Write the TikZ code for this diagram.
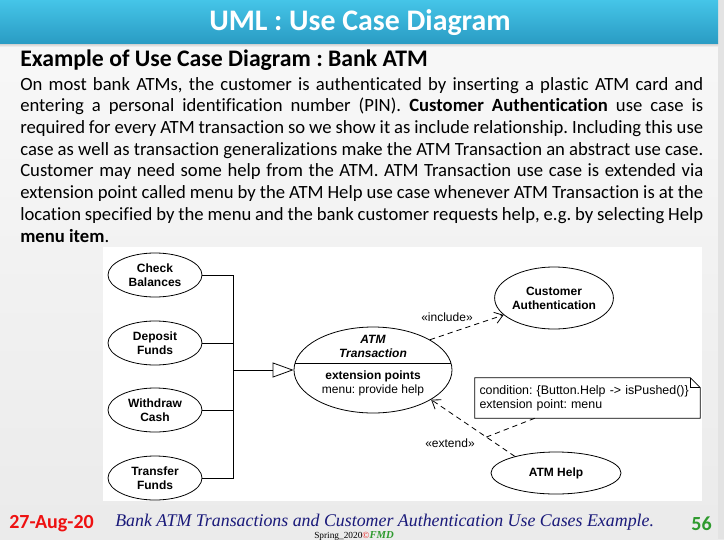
\documentclass[tikz,border=0pt]{standalone}
\usepackage{fontspec}
\setmainfont{Carlito}[Ligatures=NoCommon]
\newfontfamily\diagfont{Liberation Sans}
\newfontfamily\footfont{Liberation Serif}
\usetikzlibrary{arrows.meta,shapes.geometric}
\definecolor{barTop}{HTML}{45C5E8}
\definecolor{barBot}{HTML}{2A9CC4}
\definecolor{navyText}{HTML}{1A1A7A}
\definecolor{dateRed}{HTML}{EE1111}
\definecolor{pageGreen}{HTML}{2E9A2E}
\frenchspacing
\tikzset{
  bodyline/.style={anchor=base west, inner sep=0pt, font=\fontsize{14}{17}\selectfont},
  uc/.style={ellipse, draw, line width=0.6pt, fill=white, inner sep=0pt, align=center,
    font=\diagfont\bfseries\fontsize{9}{10.5}\selectfont},
  dlabel/.style={inner sep=0pt, font=\diagfont\fontsize{9}{10.5}\selectfont},
  dep/.style={line width=0.6pt, dash pattern=on 4pt off 3pt, -{Straight Barb[length=6pt,width=8.5pt,line width=0.6pt]}},
  genline/.style={line width=0.6pt},
  gen/.style={line width=0.6pt, -{Triangle[open, length=15.75pt, width=11.25pt, line width=0.6pt]}}
}
\begin{document}
\begin{tikzpicture}[x=0.75pt,y=-0.75pt]
\useasboundingbox (0,0) rectangle (724,539);
% background
\shade[top color=gray!5, bottom color=gray!16] (0,0) rectangle (724,539);
\fill[gray!22] (718,0) rectangle (724,539);
% title bar
\shade[top color=gray!45, bottom color=gray!6] (0,43) rectangle (718,47);
\shade[top color=barTop, bottom color=barBot] (0,0) rectangle (718,43);
\node[anchor=base, text=white, inner sep=0pt, font=\fontsize{22.4}{26}\selectfont\bfseries] (title) at (360,31) {UML : Use Case Diagram};
% subtitle
\node[anchor=base west, inner sep=0pt, font=\fontsize{17.8}{20}\selectfont\bfseries] (sub) at (20,66) {Example of Use Case Diagram : Bank ATM};
% body text
\node[bodyline] (l1) at (20,90) {\hbox to 512.25pt{On most bank ATMs, the customer is authenticated by inserting a plastic ATM card and}};
\node[bodyline] (l2) at (20,111.7) {\hbox to 512.25pt{entering a personal identification number (PIN). \textbf{Customer Authentication} use case is}};
\node[bodyline] (l3) at (20,133.4) {\hbox to 512.25pt{required for every ATM transaction so we show it as include relationship. Including this use}};
\node[bodyline] (l4) at (20,155.1) {\hbox to 512.25pt{case as well as transaction generalizations make the ATM Transaction an abstract use case.}};
\node[bodyline] (l5) at (20,176.9) {\hbox to 512.25pt{Customer may need some help from the ATM. ATM Transaction use case is extended via}};
\node[bodyline] (l6) at (20,198.6) {\hbox to 512.25pt{extension point called menu by the ATM Help use case whenever ATM Transaction is at the}};
\node[bodyline] (l7) at (20,220.3) {\hbox to 512.25pt{location specified by the menu and the bank customer requests help, e.g. by selecting Help}};
\node[bodyline] (l8) at (20,242) {\textbf{menu item}.};
% diagram area
\fill[white] (103,247) rectangle (702,501);
% left use cases
\node[uc, minimum width=70.5pt, minimum height=33pt] (cb) at (155,275) {Check\\Balances};
\node[uc, minimum width=70.5pt, minimum height=33pt] (df) at (155,343) {Deposit\\Funds};
\node[uc, minimum width=70.5pt, minimum height=33pt] (wc) at (155,410) {Withdraw\\Cash};
\node[uc, minimum width=70.5pt, minimum height=33pt] (tf) at (155,478) {Transfer\\Funds};
% ATM Transaction
\node[uc, minimum width=118.5pt, minimum height=64.5pt] (atm) at (373,370) {};
\draw[line width=0.6pt] (295.1,363) -- (450.9,363);
\node[dlabel, font=\diagfont\bfseries\itshape\fontsize{9}{10.5}\selectfont, align=center] (atmname) at (373,346) {ATM\\Transaction};
\node[dlabel, font=\diagfont\bfseries\fontsize{9}{10.5}\selectfont] (ext) at (373,376) {extension points};
\node[dlabel] (extm) at (373,390) {menu: provide help};
% other use cases
\node[uc, minimum width=87pt, minimum height=46.5pt] (ca) at (554,298) {Customer\\Authentication};
\node[uc, minimum width=97.5pt, minimum height=31.5pt] (help) at (556,473) {ATM Help};
% generalization
\coordinate (j) at (233,370);
\draw[genline] (cb.east) -| (j);
\draw[genline] (df.east) -| (j);
\draw[genline] (wc.east) -| (j);
\draw[genline] (tf.east) -| (j);
\draw[gen] (j) -- (atm.west);
% include
\draw[dep] (atm.28) -- (ca);
\node[dlabel] (inc) at (447,317) {«include»};
% extend
\draw[dep] (help.158) -- coordinate[pos=0.34] (ej) (atm.333);
\node[dlabel] (extd) at (450,443) {«extend»};
% note
\node[dlabel, font=\diagfont\fontsize{9.3}{10.5}\selectfont, minimum width=168.75pt, minimum height=30pt, text width=162pt, align=left, inner xsep=3.4pt] (note) at (587.5,398)
  {condition: \{Button.Help -> isPushed()\}\\extension point: menu};
\draw[line width=0.6pt] (note.north west) -- ([xshift=-7.5pt]note.north east) -- ([yshift=-7.5pt]note.north east) -- (note.south east) -- (note.south west) -- cycle;
\draw[line width=0.6pt] ([xshift=-7.5pt]note.north east) -- ([xshift=-7.5pt,yshift=-7.5pt]note.north east) -- ([yshift=-7.5pt]note.north east);
\draw[line width=0.6pt, dash pattern=on 4pt off 3pt] ([xshift=45pt]note.south west) -- (ej);
% footer
\node[anchor=base west, inner sep=0pt, text=dateRed, font=\fontsize{15}{18}\selectfont\bfseries] (date) at (9,528) {27-Aug-20};
\node[anchor=base west, inner sep=0pt, text=navyText, font=\footfont\itshape\fontsize{13.4}{15}\selectfont] (cap) at (115,526) {Bank ATM Transactions and Customer Authentication Use Cases Example.};
\node[anchor=base west, inner sep=0pt, font=\footfont\fontsize{7}{8}\selectfont] (spr) at (314,538) {Spring\_2020{\color{dateRed}©}{\color{pageGreen}\bfseries\itshape\fontsize{8}{9}\selectfont FMD}};
\node[anchor=base east, inner sep=0pt, text=pageGreen, font=\fontsize{15}{18}\selectfont\bfseries] (pg) at (712,530) {56};
\end{tikzpicture}
\end{document}
